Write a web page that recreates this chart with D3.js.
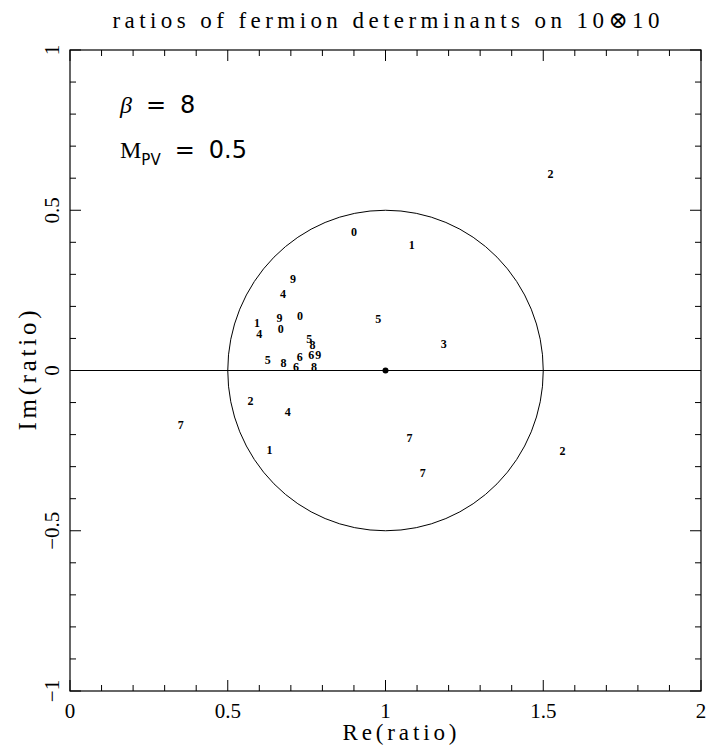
<!DOCTYPE html>
<html><head><meta charset="utf-8">
<script src="https://cdn.jsdelivr.net/npm/d3@7"></script>
<style>body{margin:0;background:#fff}svg{display:block}</style>
</head><body>
<script>
const labels = ["2","0","1","9","4","0","5","1","9","4","0","5","8","3","5","8","6","6","6","9","8","2","4","7","1","7","7","2"];
const reVals = [1.523,0.900,1.083,0.707,0.675,0.729,0.977,0.593,0.664,0.600,0.668,0.758,0.769,1.185,0.627,0.677,0.728,0.716,0.765,0.787,0.773,0.572,0.690,0.351,0.632,1.076,1.118,1.561];
const imVals = [0.615,0.432,0.393,0.285,0.240,0.170,0.162,0.149,0.163,0.115,0.131,0.100,0.080,0.082,0.032,0.025,0.042,0.010,0.049,0.049,0.012,-0.093,-0.129,-0.168,-0.246,-0.210,-0.318,-0.251];
const xTicks = [0,0.5,1,1.5,2];
const yTicks = [-1,-0.5,0,0.5,1];
const xTickLabels = ["0","0.5","1","1.5","2"];
const yTickLabels = ["\u22121","\u22120.5","0","0.5","1"];
const circleCenter = [1,0];
const circleRadius = 0.5;

const W=708,H=747;
const m={l:70,r:7,t:50,b:56};
const x=d3.scaleLinear().domain([0,2]).range([m.l,W-m.r]);
const y=d3.scaleLinear().domain([-1,1]).range([H-m.b,m.t]);
const svg=d3.select("body").append("svg").attr("width",W).attr("height",H);
const serif="'Liberation Serif','DejaVu Serif',serif";
const sans="'DejaVu Sans','Liberation Sans',sans-serif";

// frame
svg.append("rect").attr("x",x(0)).attr("y",y(1)).attr("width",x(2)-x(0)).attr("height",y(-1)-y(1))
  .attr("fill","none").attr("stroke","#000").attr("stroke-width",1.2);

const minorX=d3.range(0,2.0001,0.1), minorY=d3.range(-1,1.0001,0.1);
const isMajor=v=>Math.abs(v*2-Math.round(v*2))<1e-6;
const g=svg.append("g").attr("stroke","#000").attr("stroke-width",1);
minorX.forEach(v=>{const L=isMajor(v)?11:6;
  g.append("line").attr("x1",x(v)).attr("x2",x(v)).attr("y1",y(-1)).attr("y2",y(-1)-L);
  g.append("line").attr("x1",x(v)).attr("x2",x(v)).attr("y1",y(1)).attr("y2",y(1)+L);});
minorY.forEach(v=>{const L=isMajor(v)?11:6;
  g.append("line").attr("y1",y(v)).attr("y2",y(v)).attr("x1",x(0)).attr("x2",x(0)+L);
  g.append("line").attr("y1",y(v)).attr("y2",y(v)).attr("x1",x(2)).attr("x2",x(2)-L);});

// tick labels
svg.append("g").selectAll("text").data(xTicks).join("text")
  .attr("x",d=>x(d)).attr("y",y(-1)+27).attr("text-anchor","middle")
  .attr("font-family",serif).attr("font-size",21).text((d,i)=>xTickLabels[i]);
svg.append("g").selectAll("text").data(yTicks).join("text")
  .attr("transform",d=>`translate(${x(0)-11},${y(d)}) rotate(-90)`).attr("text-anchor","middle")
  .attr("font-family",serif).attr("font-size",21).text((d,i)=>yTickLabels[i]);

// axis titles
svg.append("text").attr("x",(x(0)+x(2))/2+14).attr("y",H-7).attr("text-anchor","middle")
  .attr("font-family",serif).attr("font-size",23).attr("textLength",114).attr("lengthAdjust","spacing").text("Re(ratio)");
svg.append("text").attr("transform",`translate(36,${y(0)}) rotate(-90)`).attr("text-anchor","middle")
  .attr("font-family",serif).attr("font-size",25).attr("textLength",120).attr("lengthAdjust","spacing").text("Im(ratio)");
svg.append("text").attr("x",386).attr("y",28).attr("text-anchor","middle")
  .attr("font-family",serif).attr("font-size",23).attr("textLength",547).attr("lengthAdjust","spacing")
  .text("ratios of fermion determinants on 10\u229710");

// zero line and circle
svg.append("line").attr("x1",x(0)).attr("x2",x(2)).attr("y1",y(0)).attr("y2",y(0)).attr("stroke","#000").attr("stroke-width",1.2);
svg.append("ellipse").attr("cx",x(circleCenter[0])).attr("cy",y(circleCenter[1]))
  .attr("rx",x(circleCenter[0]+circleRadius)-x(circleCenter[0])).attr("ry",y(circleCenter[1]-circleRadius)-y(circleCenter[1]))
  .attr("fill","none").attr("stroke","#000").attr("stroke-width",1);
svg.append("circle").attr("cx",x(circleCenter[0])).attr("cy",y(circleCenter[1])).attr("r",3).attr("fill","#000");

// annotations
const a1=svg.append("text").attr("x",120).attr("y",113).attr("font-family",sans).attr("font-size",24);
a1.append("tspan").attr("font-family",serif).attr("font-style","italic").text("\u03b2");
a1.append("tspan").attr("dx",14).text("=");
a1.append("tspan").attr("dx",14).text("8");
const a2=svg.append("text").attr("x",120).attr("y",158).attr("font-family",sans).attr("font-size",24);
a2.append("tspan").attr("font-family",serif).text("M");
a2.append("tspan").attr("font-size",15).attr("dy",7).text("PV");
a2.append("tspan").attr("dy",-7).attr("dx",14).text("=");
a2.append("tspan").attr("dx",14).text("0.5");

// points
const pts=labels.map((l,i)=>({l,re:reVals[i],im:imVals[i]}));
svg.append("g").selectAll("text").data(pts).join("text")
  .attr("x",d=>x(d.re)).attr("y",d=>y(d.im)+4.2).attr("text-anchor","middle")
  .attr("font-family",serif).attr("font-size",12).attr("font-weight","bold").text(d=>d.l);
</script>
</body></html>
